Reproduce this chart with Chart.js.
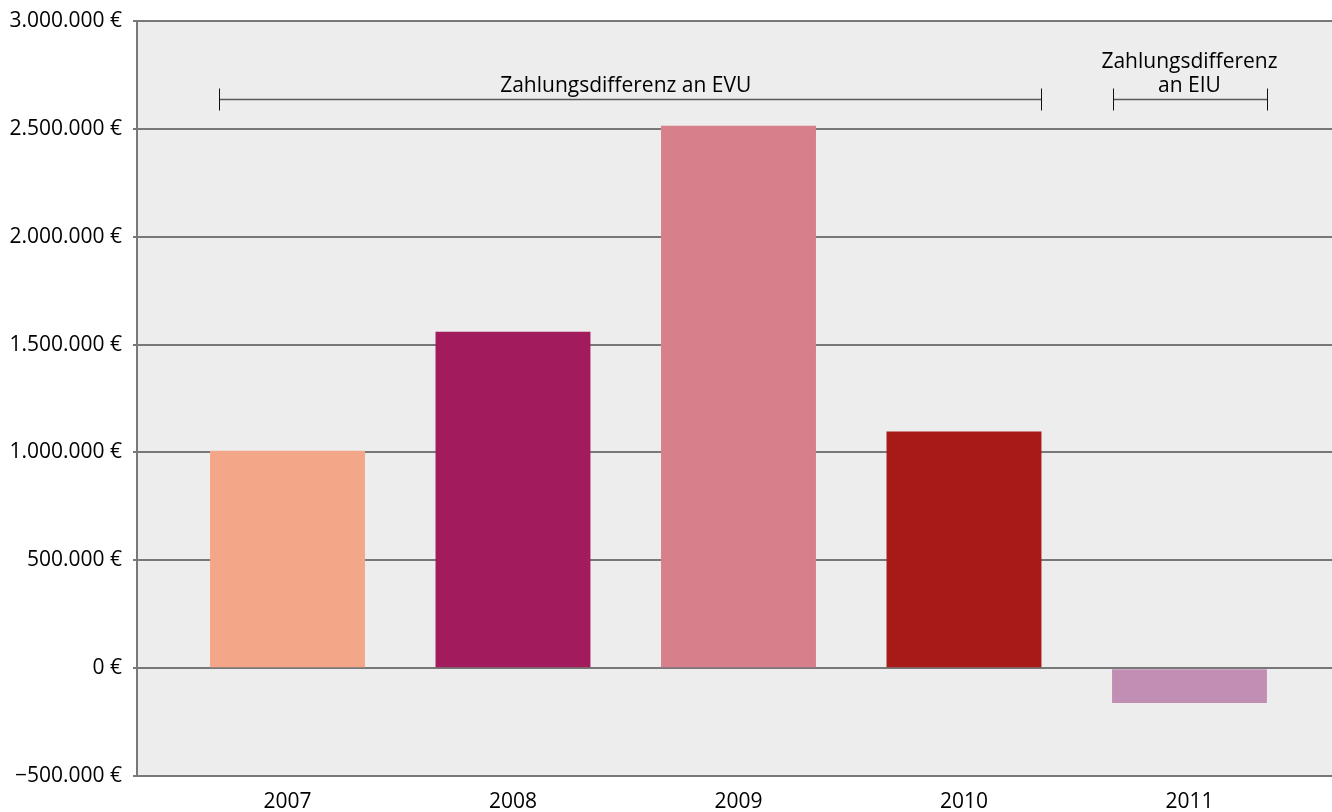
<!DOCTYPE html>
<html><head><meta charset="utf-8">
<script src="https://cdn.jsdelivr.net/npm/chart.js@4/dist/chart.umd.min.js"></script>
<style>html,body{margin:0;padding:0;background:#fff}#wrap{width:1332px;height:812px}</style>
</head><body><div id="wrap"><canvas id="c" width="1332" height="812"></canvas></div>
<script>
// ---- data ----
const years = [2007, 2008, 2009, 2010, 2011];
const yearLabels = ['2007', '2008', '2009', '2010', '2011'];
const values = [1008000, 1560000, 2514000, 1097000, -162000];
const barColors = ['#F4A688', '#A21B5D', '#D77F8A', '#A81A17', '#C28FB4'];
const yTickValues = [-500000, 0, 500000, 1000000, 1500000, 2000000, 2500000, 3000000];
const yTickLabels = ['\u2212500.000 \u20AC', '0 \u20AC', '500.000 \u20AC', '1.000.000 \u20AC', '1.500.000 \u20AC', '2.000.000 \u20AC', '2.500.000 \u20AC', '3.000.000 \u20AC'];
// bracket annotations (in data units)
const bracketText = [['Zahlungsdifferenz an EVU'], ['Zahlungsdifferenz', 'an EIU']];
const bracketFrom = [2006.696, 2010.66];
const bracketTo = [2010.341, 2011.345];
const bracketTextX = [2008.5, 2011];
const bracketLevel = 2638000;

const FONT = "'Open Sans', 'Noto Sans', sans-serif";

const bgPlugin = {
  id: 'bg',
  beforeDraw(chart) {
    const a = chart.chartArea, ctx = chart.ctx;
    ctx.save(); ctx.fillStyle = '#EDEDED';
    ctx.fillRect(a.left, a.top, a.right - a.left, a.bottom - a.top);
    ctx.restore();
  }
};
const bracketPlugin = {
  id: 'brackets',
  afterDatasetsDraw(chart) {
    const ctx = chart.ctx, xs = chart.scales.x, ys = chart.scales.y;
    const yl = Math.round(ys.getPixelForValue(bracketLevel)) + 0.5;
    ctx.save();
    for (let i = 0; i < bracketText.length; i++) {
      const x1 = Math.round(xs.getPixelForValue(bracketFrom[i])) + 0.5;
      const x2 = Math.round(xs.getPixelForValue(bracketTo[i])) + 0.5;
      ctx.strokeStyle = '#5a5a5a'; ctx.lineWidth = 1.5;
      ctx.beginPath(); ctx.moveTo(x1, yl); ctx.lineTo(x2, yl); ctx.stroke();
      ctx.strokeStyle = '#111'; ctx.lineWidth = 1;
      ctx.beginPath();
      ctx.moveTo(x1, yl - 11); ctx.lineTo(x1, yl + 11);
      ctx.moveTo(x2, yl - 11); ctx.lineTo(x2, yl + 11);
      ctx.stroke();
      ctx.fillStyle = '#000'; ctx.font = '21px ' + FONT;
      ctx.textAlign = 'center'; ctx.textBaseline = 'alphabetic';
      const tx = xs.getPixelForValue(bracketTextX[i]);
      const lines = bracketText[i];
      for (let j = 0; j < lines.length; j++) {
        ctx.fillText(lines[j], tx, yl - 8 - (lines.length - 1 - j) * 24);
      }
    }
    ctx.restore();
  }
};

new Chart(document.getElementById('c'), {
  type: 'bar',
  data: {
    labels: years,
    datasets: [{
      data: values,
      backgroundColor: barColors,
      borderWidth: 0,
      categoryPercentage: 1,
      barPercentage: 0.687
    }]
  },
  options: {
    responsive: false,
    animation: false,
    devicePixelRatio: 1,
    layout: { padding: { top: 21, left: 0, right: 0, bottom: 0 } },
    plugins: { legend: { display: false }, tooltip: { enabled: false } },
    scales: {
      x: {
        type: 'linear',
        offset: false,
        min: 2006.3326,
        max: 2011.632,
        afterBuildTicks(scale) { scale.ticks = years.map(v => ({ value: v })); },
        afterFit(scale) { scale.height = 36; scale.paddingLeft = 0; scale.paddingRight = 0; },
        grid: { display: false, drawTicks: false },
        border: { display: false },
        ticks: {
          padding: 13,
          color: '#000',
          font: { family: FONT, size: 21 },
          callback(v) { const i = years.indexOf(v); return i >= 0 ? yearLabels[i] : ''; }
        }
      },
      y: {
        min: -500000,
        max: 3000000,
        afterBuildTicks(scale) { scale.ticks = yTickValues.map(v => ({ value: v })); },
        afterFit(scale) { scale.width = 137; scale.paddingTop = 0; scale.paddingBottom = 0; },
        grid: { color: '#787878', lineWidth: 2, tickLength: 4, drawTicks: true },
        border: { display: true, color: '#787878', width: 2 },
        ticks: {
          padding: 11,
          color: '#000',
          font: { family: FONT, size: 21 },
          callback(v) { const i = yTickValues.indexOf(v); return i >= 0 ? yTickLabels[i] : ''; }
        }
      }
    }
  },
  plugins: [bgPlugin, bracketPlugin]
});
</script>
</body></html>
